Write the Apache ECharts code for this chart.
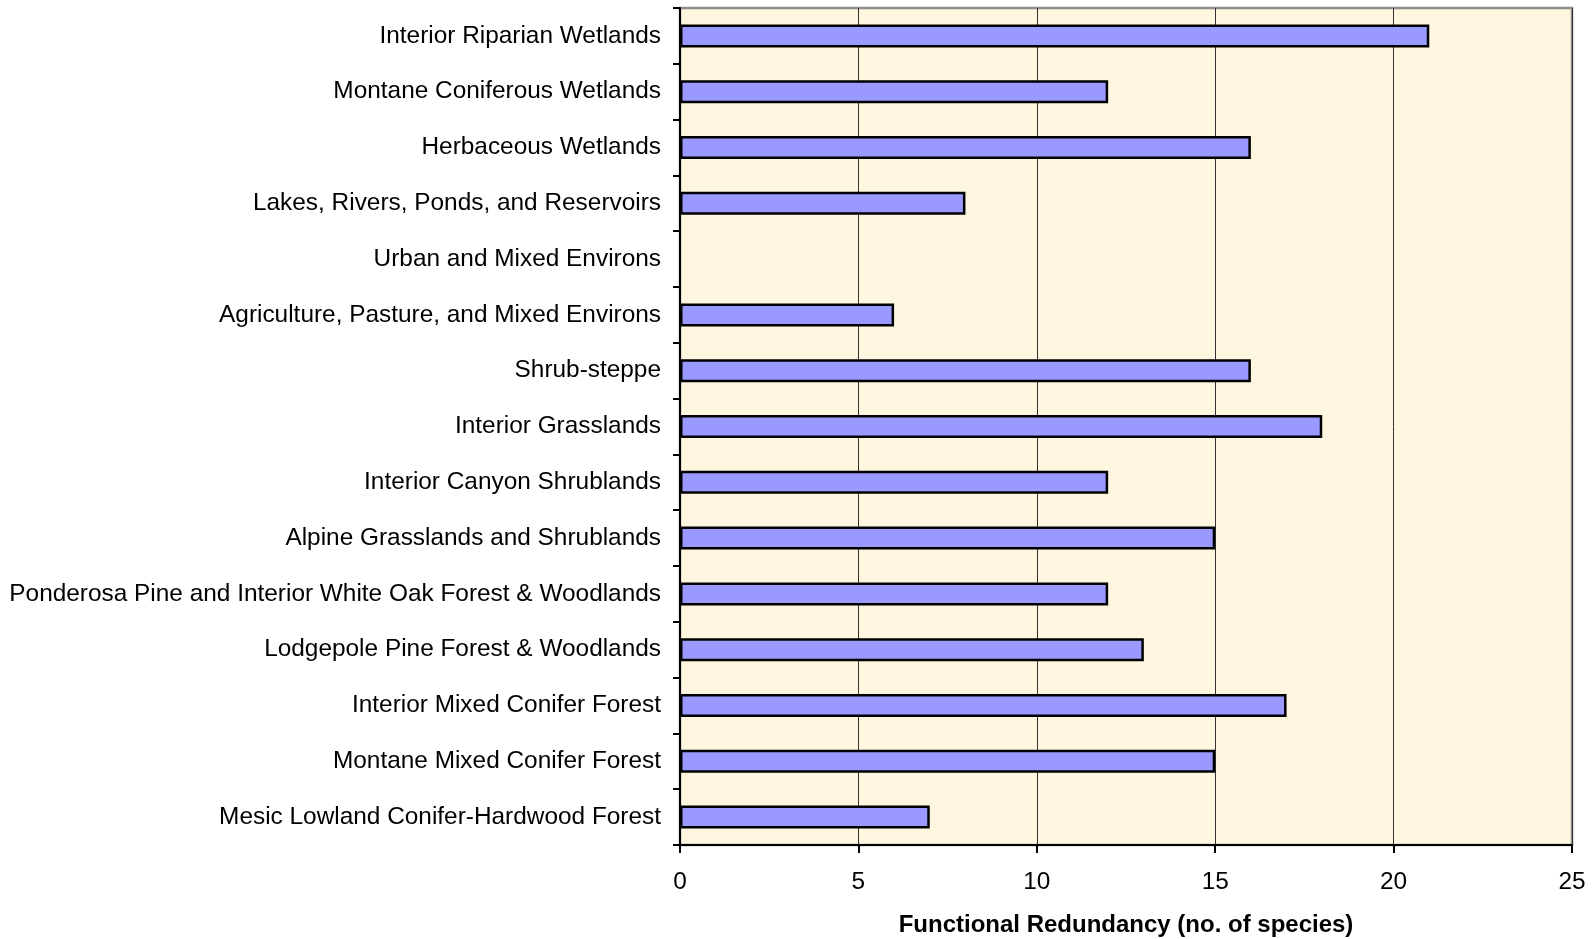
<!DOCTYPE html>
<html>
<head>
<meta charset="utf-8">
<script src="https://cdn.jsdelivr.net/npm/echarts@6/dist/echarts.min.js"></script>
<style>
html,body{margin:0;padding:0;background:#fff;}
#c{width:1595px;height:939px;}
</style>
</head>
<body>
<div id="c"></div>
<script>
var categories = [
  "Interior Riparian Wetlands",
  "Montane Coniferous Wetlands",
  "Herbaceous Wetlands",
  "Lakes, Rivers, Ponds, and Reservoirs",
  "Urban and Mixed Environs",
  "Agriculture, Pasture, and Mixed Environs",
  "Shrub-steppe",
  "Interior Grasslands",
  "Interior Canyon Shrublands",
  "Alpine Grasslands and Shrublands",
  "Ponderosa Pine and Interior White Oak Forest & Woodlands",
  "Lodgepole Pine Forest & Woodlands",
  "Interior Mixed Conifer Forest",
  "Montane Mixed Conifer Forest",
  "Mesic Lowland Conifer-Hardwood Forest"
];
var values = [21, 12, 16, 8, null, 6, 16, 18, 12, 15, 12, 13, 17, 15, 7];
var xTicks = [0, 5, 10, 15, 20, 25];
var xTitle = "Functional Redundancy (no. of species)";

var chart = echarts.init(document.getElementById('c'));
var font = "Liberation Sans, Arial, sans-serif";
chart.setOption({
  animation: false,
  backgroundColor: '#ffffff',
  grid: {
    left: 680, top: 8, right: 23, bottom: 94,
    containLabel: false,
    outerBoundsMode: 'none',
    show: true,
    backgroundColor: '#FEF6DF',
    borderColor: '#8c8c8c',
    borderWidth: 2.5
  },
  xAxis: {
    type: 'value',
    min: xTicks[0],
    max: xTicks[xTicks.length - 1],
    interval: 5,
    name: xTitle,
    nameLocation: 'middle',
    nameGap: 68,
    nameTextStyle: { fontFamily: font, fontSize: 24, fontWeight: 'bold', color: '#000' },
    axisLine: { show: true, lineStyle: { color: '#000', width: 2 } },
    axisTick: { show: true, length: 8, lineStyle: { color: '#000', width: 2 } },
    axisLabel: { fontFamily: font, fontSize: 24.4, color: '#000', margin: 25 },
    splitLine: { show: true, lineStyle: { color: '#333', width: 1 } }
  },
  yAxis: {
    type: 'category',
    data: categories,
    inverse: true,
    axisLine: { show: true, lineStyle: { color: '#000', width: 2 } },
    axisTick: { show: true, length: 7, alignWithLabel: false, lineStyle: { color: '#000', width: 2 } },
    axisLabel: { fontFamily: font, fontSize: 24.4, color: '#000', margin: 19, interval: 0 },
    splitLine: { show: false }
  },
  series: [{
    type: 'bar',
    data: values,
    barWidth: 23,
    itemStyle: { color: '#9999FF', borderColor: '#000', borderWidth: 2.5 }
  }]
});
</script>
</body>
</html>
